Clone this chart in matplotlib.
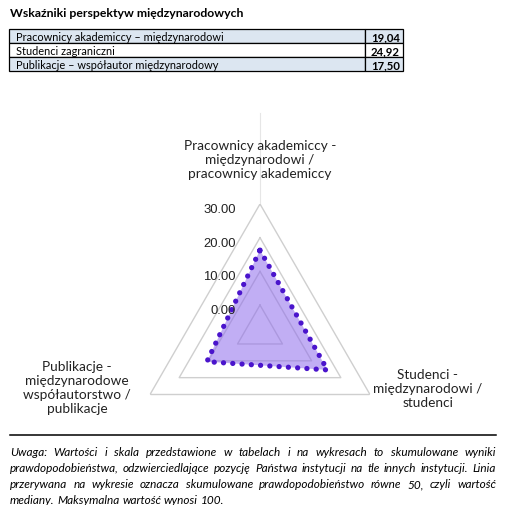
import numpy as np
import matplotlib
matplotlib.use("Agg")
import matplotlib.pyplot as plt
from matplotlib.patches import Rectangle
from matplotlib import transforms

# dane
title = "Wskaźniki perspektyw międzynarodowych"
table_labels = ["Pracownicy akademiccy – międzynarodowi",
                "Studenci zagraniczni",
                "Publikacje – współautor międzynarodowy"]
table_values = ["19,04", "24,92", "17,50"]

radar_labels = ["Pracownicy akademiccy -\nmiędzynarodowi /\npracownicy akademiccy",
                "Studenci -\nmiędzynarodowi /\nstudenci",
                "Publikacje -\nmiędzynarodowe\nwspółautorstwo /\npublikacje"]
radar_values = [16.3, 15.4, 10.5]
grid_levels = [0, 10, 20, 30]

note_lines = ["Uwaga: Wartości i skala przedstawione w tabelach i na wykresach to skumulowane wyniki",
              "prawdopodobieństwa, odzwierciedlające pozycję Państwa instytucji na tle innych instytucji. Linia",
              "przerywana na wykresie oznacza skumulowane prawdopodobieństwo równe 50, czyli wartość",
              "mediany. Maksymalna wartość wynosi 100."]

W, H = 509, 506
fig = plt.figure(figsize=(W / 100, H / 100), dpi=100)

# warstwa w pikselach na tytuł, tabelę i uwagę
bg = fig.add_axes([0, 0, 1, 1])
bg.set_xlim(0, W)
bg.set_ylim(H, 0)
bg.axis("off")

bg.text(10, 13, title, fontsize=8.8, fontweight="bold", family="Lato", va="center")

row_h = 14
x0, xdiv, x1, ytop = 9.5, 365, 403, 30
for i, (lab, val) in enumerate(zip(table_labels, table_values)):
    y = ytop + i * row_h
    fc = "#dce6f1" if i % 2 == 0 else "white"
    bg.add_patch(Rectangle((x0, y), xdiv - x0, row_h, fc=fc, ec="black", lw=0.9))
    bg.add_patch(Rectangle((xdiv, y), x1 - xdiv, row_h, fc=fc, ec="black", lw=0.9))
    bg.text(16, y + row_h / 2 + 0.5, lab, fontsize=7.9, family="Lato", va="center")
    bg.text(x1 - 3, y + row_h / 2 + 0.5, val, fontsize=8.2, family="Lato",
            fontweight="bold", va="center", ha="right")

# etykiety osi radaru (na wierzchu, nad linią osi)
lab_pos = [(260, 160), (428, 389), (77, 388)]
for txt, (px, py) in zip(radar_labels, lab_pos):
    fig.text(px, py, txt, transform=bg.transData, fontsize=9.8, family="Lato",
             ha="center", va="center", linespacing=1.2, color="#222222", zorder=5)

# linia i uwaga
bg.plot([10, 496], [435.5, 435.5], color="black", lw=1.1)

renderer = fig.canvas.get_renderer()
note_y = [453, 469, 485, 501]
left, right = 10, 496
fs_note = 8.5
for k, line in enumerate(note_lines):
    words = line.split(" ")
    objs = [bg.text(0, note_y[k], w, fontsize=fs_note, family="Lato", style="italic",
                    va="center") for w in words]
    widths = [o.get_window_extent(renderer).width for o in objs]
    space = bg.text(0, 0, "a a", fontsize=fs_note, family="Lato", style="italic",
                    alpha=0).get_window_extent(renderer).width - \
        2 * bg.text(0, 0, "a", fontsize=fs_note, family="Lato", style="italic",
                    alpha=0).get_window_extent(renderer).width
    if k < len(note_lines) - 1:
        gap = (right - left - sum(widths)) / (len(words) - 1)
    else:
        gap = space
    x = left
    for o, w in zip(objs, widths):
        o.set_x(x)
        x += w + gap

# radar
cx, cy, R = 260, 332, 127
ax = fig.add_axes([(cx - R) / W, 1 - (cy + R) / H, 2 * R / W, 2 * R / H],
                  projection="polar")
ax.patch.set_alpha(0)
ax.set_theta_zero_location("N")
ax.set_theta_direction(-1)
ax.set_ylim(-7.7, 30)
ax.grid(False)
ax.spines["polar"].set_visible(False)
ax.set_xticks([])
ax.set_yticks([])

angles = np.linspace(0, 2 * np.pi, len(radar_labels), endpoint=False)
ang_c = np.append(angles, angles[0])

for lv in grid_levels:
    ax.plot(ang_c, [lv] * len(ang_c), color="#cfcfcf", lw=1.0, zorder=1)
ax.plot([0, 0], [30, 57], color="#e6e6e6", lw=0.8, zorder=0, clip_on=False)

vals = np.append(radar_values, radar_values[0])
ax.fill(ang_c, vals, color="#8f6ceb", alpha=0.55, lw=0, zorder=2)
ax.plot(ang_c, vals, color="#4a14cc", lw=3.8, linestyle=(0, (0.01, 1.75)),
        dash_capstyle="round", zorder=3)

off = transforms.offset_copy(ax.transData, fig=fig, x=-24, y=-5, units="dots")
for lv in grid_levels:
    ax.text(0, lv, f"{lv:.2f}", transform=off, ha="right", va="center",
            fontsize=9.4, family="Liberation Sans", color="#222222")

fig.savefig("out.png", dpi=100)
